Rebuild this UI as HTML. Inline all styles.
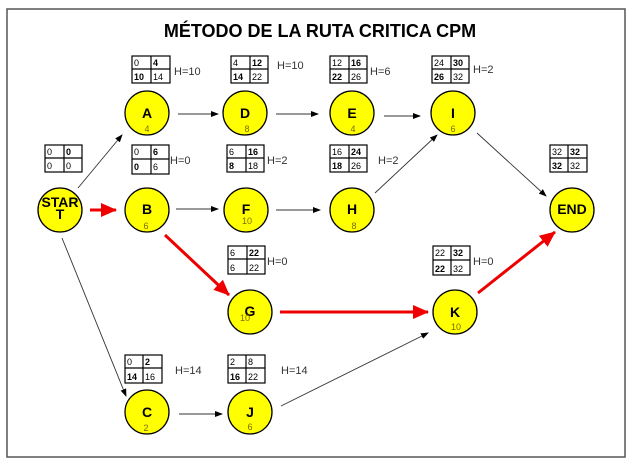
<!DOCTYPE html>
<html><head><meta charset="utf-8"><style>
html,body{margin:0;padding:0;background:#fff;}
svg{display:block;font-family:"Liberation Sans",Arial,sans-serif;}
.c{fill:#ffff00;stroke:#000;stroke-width:1.3}
.L{font-weight:bold;font-size:14px;text-anchor:middle}
.n{font-size:9px;fill:#7a6a00;text-anchor:middle}
.t{font-size:9px}
.h{font-size:11px;fill:#333}
.a{stroke:#333;stroke-width:0.9;fill:none}
.r{stroke:#e00;stroke-width:3;fill:none}
</style></head><body>
<svg width="640" height="472" viewBox="0 0 640 472">
<defs>
<marker id="ah" markerWidth="8" markerHeight="6" refX="7" refY="3" orient="auto" markerUnits="userSpaceOnUse"><path d="M0,0L8,3L0,6z" fill="#000"/></marker>
<marker id="rh" markerWidth="16" markerHeight="14" refX="15" refY="7" orient="auto" markerUnits="userSpaceOnUse"><path d="M0,0L16,7L0,14z" fill="#e00"/></marker>
</defs>
<rect x="7" y="9" width="618" height="448" fill="#fff" stroke="#555" stroke-width="1.5"/>
<text x="320" y="37" font-size="18" font-weight="bold" text-anchor="middle">MÉTODO DE LA RUTA CRITICA CPM</text>

<line class="a" x1="78" y1="188" x2="122" y2="135" marker-end="url(#ah)"/>
<line class="r" x1="90" y1="210" x2="116" y2="210" marker-end="url(#rh)"/>
<line class="a" x1="178" y1="114" x2="218" y2="114" marker-end="url(#ah)"/>
<line class="a" x1="276" y1="114" x2="318" y2="114" marker-end="url(#ah)"/>
<line class="a" x1="384" y1="116" x2="420" y2="116" marker-end="url(#ah)"/>
<line class="a" x1="176" y1="209" x2="218" y2="209" marker-end="url(#ah)"/>
<line class="a" x1="276" y1="210" x2="320" y2="210" marker-end="url(#ah)"/>
<line class="a" x1="375" y1="193" x2="437" y2="135" marker-end="url(#ah)"/>
<line class="a" x1="477" y1="133" x2="546" y2="196" marker-end="url(#ah)"/>
<line class="r" x1="165" y1="235" x2="229" y2="295" marker-end="url(#rh)"/>
<line class="r" x1="280" y1="312" x2="428" y2="312" marker-end="url(#rh)"/>
<line class="r" x1="478" y1="293" x2="555" y2="232" marker-end="url(#rh)"/>
<line class="a" x1="62" y1="238" x2="126" y2="396" marker-end="url(#ah)"/>
<line class="a" x1="179" y1="414" x2="222" y2="414" marker-end="url(#ah)"/>
<line class="a" x1="281" y1="406" x2="428" y2="333" marker-end="url(#ah)"/>

<circle class="c" cx="60" cy="210" r="22"/><text class="L" x="60" y="207" font-size="10">STAR</text><text class="L" x="60" y="219" font-size="10">T</text>
<circle class="c" cx="147" cy="113" r="22"/><text class="L" x="147" y="118">A</text><text class="n" x="147" y="132">4</text>
<circle class="c" cx="245" cy="113" r="22"/><text class="L" x="245" y="118">D</text><text class="n" x="247" y="132">8</text>
<circle class="c" cx="352" cy="113" r="22"/><text class="L" x="352" y="118">E</text><text class="n" x="353" y="132">4</text>
<circle class="c" cx="453" cy="113" r="22"/><text class="L" x="453" y="118">I</text><text class="n" x="453" y="132">6</text>
<circle class="c" cx="147" cy="210" r="22"/><text class="L" x="147" y="214">B</text><text class="n" x="146" y="229">6</text>
<circle class="c" cx="246" cy="210" r="22"/><text class="L" x="246" y="214">F</text><text class="n" x="247" y="224">10</text>
<circle class="c" cx="352" cy="210" r="22"/><text class="L" x="352" y="214">H</text><text class="n" x="354" y="229">8</text>
<circle class="c" cx="572" cy="210" r="22"/><text class="L" x="572" y="214" font-size="10">END</text>
<circle class="c" cx="250" cy="312" r="22"/><text class="L" x="250" y="316">G</text><text class="n" x="245" y="321">10</text>
<circle class="c" cx="455" cy="312" r="22"/><text class="L" x="455" y="317">K</text><text class="n" x="456" y="330">10</text>
<circle class="c" cx="147" cy="412" r="22"/><text class="L" x="147" y="417">C</text><text class="n" x="146" y="431">2</text>
<circle class="c" cx="250" cy="412" r="22"/><text class="L" x="250" y="417">J</text><text class="n" x="250" y="430">6</text>

<g fill="none" stroke="#000" stroke-width="1.2">
<rect x="132" y="56" width="38" height="27"/><line x1="151" y1="56" x2="151" y2="83"/><line x1="132" y1="69" x2="170" y2="69"/>
<rect x="231" y="56" width="37" height="27"/><line x1="250" y1="56" x2="250" y2="83"/><line x1="231" y1="69" x2="268" y2="69"/>
<rect x="330" y="56" width="37" height="27"/><line x1="349" y1="56" x2="349" y2="83"/><line x1="330" y1="69" x2="367" y2="69"/>
<rect x="432" y="56" width="37" height="27"/><line x1="451" y1="56" x2="451" y2="83"/><line x1="432" y1="69" x2="469" y2="69"/>
<rect x="45" y="145" width="37" height="27"/><line x1="64" y1="145" x2="64" y2="172"/><line x1="45" y1="158" x2="82" y2="158"/>
<rect x="132" y="145" width="37" height="29"/><line x1="151" y1="145" x2="151" y2="174"/><line x1="132" y1="159" x2="169" y2="159"/>
<rect x="227" y="145" width="37" height="27"/><line x1="246" y1="145" x2="246" y2="172"/><line x1="227" y1="158" x2="264" y2="158"/>
<rect x="330" y="145" width="37" height="27"/><line x1="349" y1="145" x2="349" y2="172"/><line x1="330" y1="158" x2="367" y2="158"/>
<rect x="550" y="145" width="37" height="27"/><line x1="568" y1="145" x2="568" y2="172"/><line x1="550" y1="158" x2="587" y2="158"/>
<rect x="228" y="246" width="37" height="28"/><line x1="247" y1="246" x2="247" y2="274"/><line x1="228" y1="259" x2="265" y2="259"/>
<rect x="433" y="246" width="37" height="29"/><line x1="451" y1="246" x2="451" y2="275"/><line x1="433" y1="260" x2="470" y2="260"/>
<rect x="125" y="355" width="37" height="28"/><line x1="143" y1="355" x2="143" y2="383"/><line x1="125" y1="368" x2="162" y2="368"/>
<rect x="228" y="355" width="37" height="28"/><line x1="246" y1="355" x2="246" y2="383"/><line x1="228" y1="368" x2="265" y2="368"/>
</g>
<g class="t">
<text x="134" y="66">0</text><text x="153" y="66" font-weight="bold">4</text><text x="134" y="80" font-weight="bold">10</text><text x="153" y="80">14</text>
<text x="233" y="66">4</text><text x="252" y="66" font-weight="bold">12</text><text x="233" y="80" font-weight="bold">14</text><text x="252" y="80">22</text>
<text x="332" y="66">12</text><text x="351" y="66" font-weight="bold">16</text><text x="332" y="80" font-weight="bold">22</text><text x="351" y="80">26</text>
<text x="434" y="66">24</text><text x="453" y="66" font-weight="bold">30</text><text x="434" y="80" font-weight="bold">26</text><text x="453" y="80">32</text>
<text x="47" y="155">0</text><text x="66" y="155" font-weight="bold">0</text><text x="47" y="169">0</text><text x="66" y="169">0</text>
<text x="134" y="155">0</text><text x="153" y="155" font-weight="bold">6</text><text x="134" y="170" font-weight="bold">0</text><text x="153" y="170">6</text>
<text x="229" y="155">6</text><text x="248" y="155" font-weight="bold">16</text><text x="229" y="169" font-weight="bold">8</text><text x="248" y="169">18</text>
<text x="332" y="155">16</text><text x="351" y="155" font-weight="bold">24</text><text x="332" y="169" font-weight="bold">18</text><text x="351" y="169">26</text>
<text x="552" y="155">32</text><text x="570" y="155" font-weight="bold">32</text><text x="552" y="169" font-weight="bold">32</text><text x="570" y="169">32</text>
<text x="230" y="256">6</text><text x="249" y="256" font-weight="bold">22</text><text x="230" y="271">6</text><text x="249" y="271">22</text>
<text x="435" y="256">22</text><text x="453" y="256" font-weight="bold">32</text><text x="435" y="272" font-weight="bold">22</text><text x="453" y="272">32</text>
<text x="127" y="365">0</text><text x="145" y="365" font-weight="bold">2</text><text x="127" y="380" font-weight="bold">14</text><text x="145" y="380">16</text>
<text x="230" y="365">2</text><text x="248" y="365">8</text><text x="230" y="380" font-weight="bold">16</text><text x="248" y="380">22</text>
</g>
<g class="h">
<text x="174" y="75">H=10</text><text x="277" y="69">H=10</text><text x="370" y="75">H=6</text><text x="473" y="73">H=2</text>
<text x="170" y="164">H=0</text><text x="267" y="164">H=2</text><text x="378" y="164">H=2</text>
<text x="267" y="265">H=0</text><text x="473" y="265">H=0</text>
<text x="175" y="374">H=14</text><text x="281" y="374">H=14</text>
</g>
</svg>
</body></html>
